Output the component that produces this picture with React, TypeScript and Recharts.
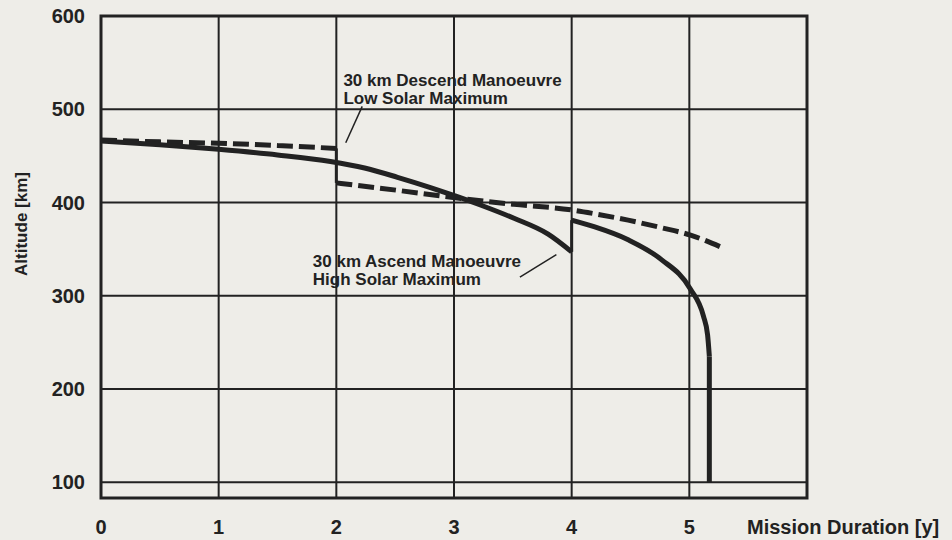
import React from 'react'
import {
  LineChart,
  Line,
  XAxis,
  YAxis,
  CartesianGrid,
  ReferenceArea,
  ReferenceLine,
  ReferenceDot,
} from 'recharts'

// mission duration [y] vs altitude [km]
// each curve is split at its manoeuvre so the smoothing doesn't bend into the jump
const ascendBefore = [
  { t: 0, alt: 466 },
  { t: 0.5, alt: 462 },
  { t: 1, alt: 457 },
  { t: 1.5, alt: 451 },
  { t: 1.95, alt: 444 },
  { t: 2.24, alt: 437 },
  { t: 2.52, alt: 427 },
  { t: 2.8, alt: 416 },
  { t: 3.01, alt: 407 },
  { t: 3.23, alt: 397 },
  { t: 3.51, alt: 383 },
  { t: 3.8, alt: 366 },
  { t: 4, alt: 347 },
]
const ascendJump = [
  { t: 4, alt: 347 },
  { t: 4, alt: 381 },
]
const ascendAfter = [
  { t: 4, alt: 381 },
  { t: 4.19, alt: 374 },
  { t: 4.48, alt: 360 },
  { t: 4.76, alt: 339 },
  { t: 5.01, alt: 307 },
  { t: 5.12, alt: 278 },
  { t: 5.155, alt: 258 },
  { t: 5.17, alt: 235 },
]
const reentry = [
  { t: 5.17, alt: 235 },
  { t: 5.17, alt: 100 },
]

const descendBefore = [
  { t: 0, alt: 467 },
  { t: 0.5, alt: 465 },
  { t: 1, alt: 463.5 },
  { t: 1.5, alt: 461 },
  { t: 2, alt: 458 },
]
const descendJump = [
  { t: 2, alt: 458 },
  { t: 2, alt: 421 },
]
const descendAfter = [
  { t: 2, alt: 421 },
  { t: 2.52, alt: 413 },
  { t: 3.01, alt: 405 },
  { t: 3.51, alt: 398 },
  { t: 4, alt: 392 },
  { t: 4.19, alt: 388 },
  { t: 4.48, alt: 381 },
  { t: 4.76, alt: 373 },
  { t: 5.01, alt: 365 },
  { t: 5.29, alt: 351 },
]

const xTicks = [0, 1, 2, 3, 4, 5]
const yTicks = [100, 200, 300, 400, 500, 600]

const ink = '#222'
const font = '"Liberation Sans", Arial, sans-serif'

function Note({ viewBox, lines }: any) {
  return (
    <text x={viewBox.x} y={viewBox.y} fill={ink} fontSize={17} fontWeight="bold" fontFamily={font}>
      {lines.map((l: string, i: number) => (
        <tspan key={i} x={viewBox.x} dy={i === 0 ? 0 : 18}>
          {l}
        </tspan>
      ))}
    </text>
  )
}

export default function App() {
  const solid = { dataKey: 'alt', stroke: ink, strokeWidth: 5, dot: false, isAnimationActive: false }
  const dashed = { ...solid, strokeDasharray: '16 6' }
  return (
    <div style={{ position: 'absolute', left: 0, top: 0, width: 952, height: 540, background: '#eeede8' }}>
      <LineChart width={952} height={540} margin={{ top: 16, right: 145, left: 0, bottom: 0 }}>
        <CartesianGrid stroke={ink} strokeWidth={2} />
        <XAxis
          dataKey="t"
          type="number"
          domain={[0, 6]}
          ticks={xTicks}
          height={42}
          axisLine={false}
          tickLine={false}
          tickMargin={16}
          tick={{ fontSize: 20, fontWeight: 'bold', fill: ink, fontFamily: font }}
          label={({ viewBox }: any) => (
            <text
              x={viewBox.x + viewBox.width - 60}
              y={viewBox.y + 36}
              fill={ink}
              fontSize={20}
              fontWeight="bold"
              fontFamily={font}
            >
              Mission Duration [y]
            </text>
          )}
        />
        <YAxis
          dataKey="alt"
          type="number"
          domain={[83, 600]}
          ticks={yTicks}
          width={101}
          axisLine={false}
          tickLine={false}
          tickMargin={10}
          tick={{ fontSize: 20, fontWeight: 'bold', fill: ink, fontFamily: font }}
          label={({ viewBox }: any) => {
            const cx = viewBox.x + 21
            const cy = viewBox.y + viewBox.height / 2 - 33
            return (
              <text
                x={cx}
                y={cy}
                transform={`rotate(-90, ${cx}, ${cy})`}
                textAnchor="middle"
                dominantBaseline="central"
                fill={ink}
                fontSize={17}
                fontWeight="bold"
                fontFamily={font}
              >
                Altitude [km]
              </text>
            )
          }}
        />
        <ReferenceArea x1={0} x2={6} y1={83} y2={600} fill="none" stroke={ink} strokeWidth={3} ifOverflow="visible" />
        <ReferenceLine segment={[{ x: 2.22, y: 503 }, { x: 2.08, y: 464 }]} stroke={ink} strokeWidth={1.5} />
        <ReferenceLine segment={[{ x: 3.56, y: 320 }, { x: 3.87, y: 344 }]} stroke={ink} strokeWidth={1.5} />
        <ReferenceDot
          x={2.06}
          y={525}
          r={0}
          fill="none"
          stroke="none"
          label={(p: any) => <Note {...p} lines={['30 km Descend Manoeuvre', 'Low Solar Maximum']} />}
        />
        <ReferenceDot
          x={1.8}
          y={331}
          r={0}
          fill="none"
          stroke="none"
          label={(p: any) => <Note {...p} lines={['30 km Ascend Manoeuvre', 'High Solar Maximum']} />}
        />
        <Line data={descendBefore} type="monotone" {...dashed} />
        <Line data={descendJump} type="linear" {...solid} strokeWidth={3} />
        <Line data={descendAfter} type="monotone" {...dashed} />
        <Line data={ascendBefore} type="monotone" {...solid} />
        <Line data={ascendJump} type="linear" {...solid} strokeWidth={3} />
        <Line data={ascendAfter} type="monotone" {...solid} />
        <Line data={reentry} type="linear" {...solid} />
      </LineChart>
    </div>
  )
}
